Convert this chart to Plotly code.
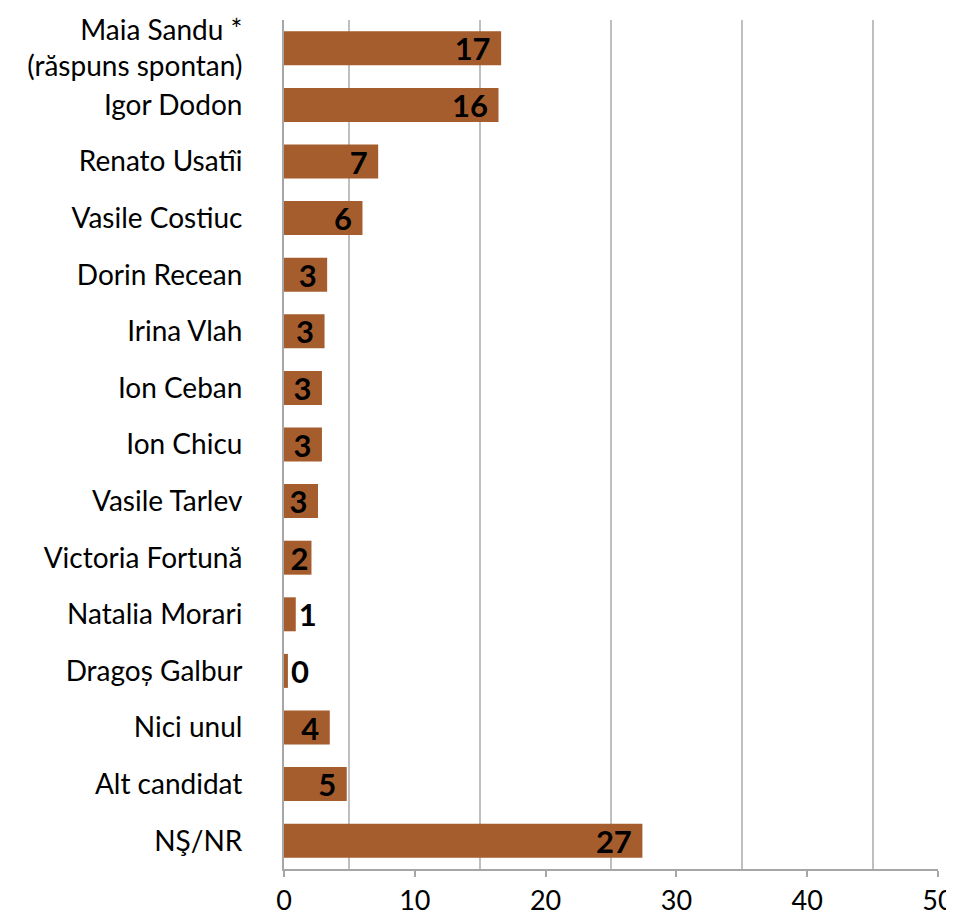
import plotly.graph_objects as go

categories = [
    "Maia Sandu *<br>(răspuns spontan)",
    "Igor Dodon",
    "Renato Usatîi",
    "Vasile Costiuc",
    "Dorin Recean",
    "Irina Vlah",
    "Ion Ceban",
    "Ion Chicu",
    "Vasile Tarlev",
    "Victoria Fortună",
    "Natalia Morari",
    "Dragoș Galbur",
    "Nici unul",
    "Alt candidat",
    "NŞ/NR",
]
values = [16.6, 16.4, 7.2, 6.0, 3.3, 3.1, 2.9, 2.9, 2.6, 2.1, 0.9, 0.3, 3.5, 4.8, 27.4]
labels = ["17", "16", "7", "6", "3", "3", "3", "3", "3", "2", "1", "0", "4", "5", "27"]
x_ticks = [0, 10, 20, 30, 40, 50]

FONT = "Lato"
BAR = "#A65D2E"
positions = ["outside" if v < 1.5 else "inside" for v in values]
shown = [t + "\u00a0" if v >= 2.5 else t for t, v in zip(labels, values)]
label_font = dict(family=FONT, size=31, color="black", weight="bold")

fig = go.Figure(
    go.Bar(
        y=categories,
        x=values,
        orientation="h",
        marker=dict(color=BAR, line=dict(width=0)),
        text=shown,
        textposition=positions,
        textangle=0,
        insidetextanchor="end",
        textfont=label_font,
        insidetextfont=label_font,
        outsidetextfont=label_font,
        cliponaxis=False,
        width=0.6,
    )
)

# page body has an 8px margin, so the figure is sized to the visible area
fig.update_layout(
    width=946,
    height=908,
    margin=dict(l=276, r=16, t=12, b=47, autoexpand=False),
    plot_bgcolor="white",
    paper_bgcolor="white",
    showlegend=False,
    uniformtext=dict(minsize=31, mode="show"),
    font=dict(family=FONT, size=28, color="black"),
)

fig.update_yaxes(
    autorange="reversed",
    automargin=False,
    showgrid=False,
    showline=True,
    linecolor="#A6A6A6",
    linewidth=2,
    ticks="",
    ticklabelstandoff=34,
    tickfont=dict(family=FONT, size=28, color="black"),
)

fig.update_xaxes(
    range=[0, 50],
    automargin=False,
    tickvals=x_ticks,
    ticktext=[str(t) for t in x_ticks],
    showgrid=False,
    zeroline=False,
    showline=True,
    linecolor="#A6A6A6",
    linewidth=2,
    ticks="outside",
    ticklen=6,
    tickwidth=2,
    tickcolor="#A6A6A6",
    ticklabelstandoff=1,
    ticklabeloverflow="allow",
    tickfont=dict(family=FONT, size=27, color="black"),
    minor=dict(tick0=5, dtick=10, showgrid=True, gridcolor="#BFBFBF", gridwidth=2, ticks=""),
)

fig.write_html("out.html")
